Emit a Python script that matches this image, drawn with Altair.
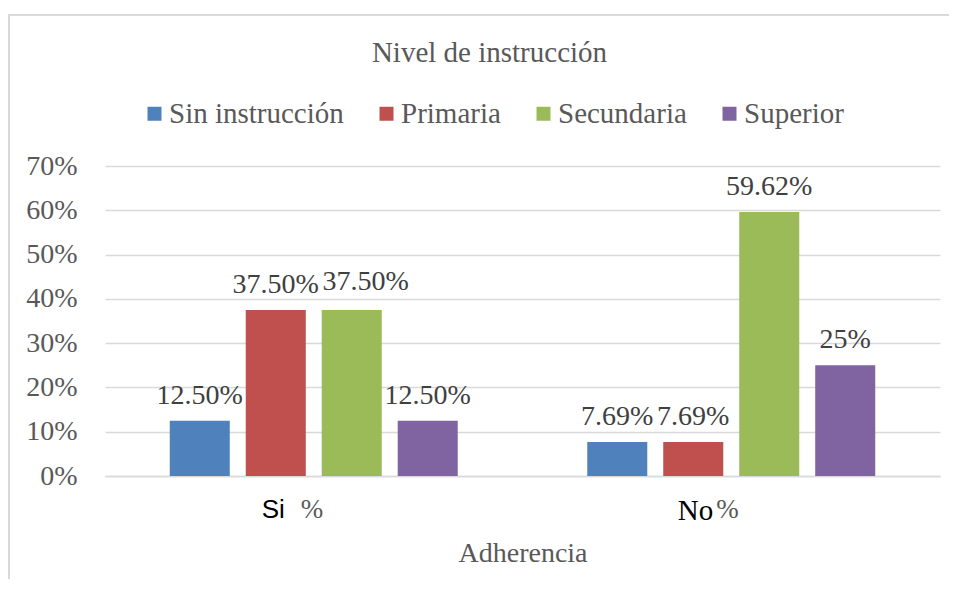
import altair as alt
import pandas as pd

categories = ["Si", "No"]
levels = ["Sin instrucción", "Primaria", "Secundaria", "Superior"]
si_values = [12.5, 37.5, 37.5, 12.5]
no_values = [7.69, 7.69, 59.62, 25.0]
si_labels = ["12.50%", "37.50%", "37.50%", "12.50%"]
no_labels = ["7.69%", "7.69%", "59.62%", "25%"]
y_ticks = [0, 10, 20, 30, 40, 50, 60, 70]
colors = ["#4F81BD", "#C0504D", "#9BBB59", "#8064A2"]

rows = []
for cat, vals, labs in [("Si", si_values, si_labels), ("No", no_values, no_labels)]:
    for lev, v, lab in zip(levels, vals, labs):
        rows.append({"Adherencia": cat, "Nivel": lev, "Valor": v, "Etiqueta": lab})
df = pd.DataFrame(rows)

SERIF = "Liberation Serif"
GRAY = "#595959"
W, H = 835, 310

xscale = alt.Scale(paddingInner=0.272, paddingOuter=0.136)
xoff = alt.XOffset("Nivel:N", sort=levels, scale=alt.Scale(paddingInner=0.21, paddingOuter=0.105))
yscale = alt.Scale(domain=[0, 70])
yaxis = alt.Axis(title=None, values=y_ticks, labelExpr="datum.value + '%'",
                 domain=False, ticks=False, grid=True, gridColor="#D9D9D9", gridWidth=1.5,
                 labelFont=SERIF, labelFontSize=28, labelColor=GRAY, labelPadding=28)

one = pd.DataFrame({"k": [0]})
frame_top = alt.Chart(one).mark_rule(stroke="#D9D9D9", strokeWidth=2).encode(
    x=alt.value(-96), x2=alt.value(900), y=alt.value(-151)
)
frame_left = alt.Chart(one).mark_rule(stroke="#D9D9D9", strokeWidth=2).encode(
    x=alt.value(-96), y=alt.value(-152), y2=alt.value(460)
)

bars = alt.Chart(df).mark_bar().encode(
    x=alt.X("Adherencia:N", sort=categories, scale=xscale,
            axis=alt.Axis(
                orient="bottom", title="Adherencia", labelAngle=0,
                domain=True, domainColor="#D9D9D9", domainWidth=1.5,
                ticks=False, grid=False,
                labelFont={"condition": {"test": "datum.value === 'Si'", "value": "Liberation Sans"}, "value": SERIF},
                labelFontSize={"condition": {"test": "datum.value === 'Si'", "value": 26}, "value": 29},
                labelOffset={"condition": {"test": "datum.value === 'Si'", "value": -29}, "value": -18},
                labelAlign="right", labelColor="#000000", labelPadding=20,
                titleFont=SERIF, titleFontSize=28, titleFontWeight="normal", titleColor=GRAY,
                titleY=85, titleBaseline="alphabetic",
            )),
    xOffset=xoff,
    y=alt.Y("Valor:Q", scale=yscale, axis=yaxis),
    color=alt.Color("Nivel:N", sort=levels, scale=alt.Scale(domain=levels, range=colors),
                    legend=alt.Legend(title=None, orient="none", legendX=35, legendY=-67,
                                      direction="horizontal", columns=4,
                                      symbolType="square", symbolSize=196, symbolStrokeWidth=0,
                                      labelFont=SERIF, labelFontSize=29, labelColor=GRAY,
                                      labelLimit=0, labelOffset=0, columnPadding=28, padding=0)),
)

main_labels = alt.Chart(df).transform_filter(
    "!(datum.Adherencia === 'Si' && datum.Nivel === 'Secundaria')"
).mark_text(font=SERIF, fontSize=28, color="#404040", baseline="alphabetic", dy=-17).encode(
    x=alt.X("Adherencia:N", sort=categories, scale=xscale,
            axis=alt.Axis(orient="bottom", title=None, labelExpr="'%'", labelAngle=0,
                          domain=False, ticks=False, grid=False,
                          labelAlign="left",
                          labelOffset={"condition": {"test": "datum.value === 'Si'", "value": -13}, "value": -15},
                          labelFont=SERIF, labelFontSize=27, labelColor=GRAY, labelPadding=20)),
    xOffset=xoff,
    y=alt.Y("Valor:Q", scale=yscale, axis=yaxis),
    text="Etiqueta:N",
)

special_label = alt.Chart(df).transform_filter(
    "datum.Adherencia === 'Si' && datum.Nivel === 'Secundaria'"
).mark_text(font=SERIF, fontSize=28, color="#404040", baseline="alphabetic", dy=-20, dx=14).encode(
    x=alt.X("Adherencia:N", sort=categories, scale=xscale, axis=None),
    xOffset=xoff,
    y=alt.Y("Valor:Q", scale=yscale, axis=yaxis),
    text="Etiqueta:N",
)

chart = alt.layer(frame_top, frame_left, bars, main_labels, special_label).resolve_axis(x="independent").properties(
    width=W, height=H,
    title=alt.TitleParams("Nivel de instrucción", font=SERIF, fontSize=29, fontWeight="normal",
                          color=GRAY, anchor="middle", frame="group", dx=-33, offset=-55),
    padding={"left": 97, "top": 158, "right": 9, "bottom": 103},
    autosize=alt.AutoSizeParams(type="none"),
    background="white",
).configure_view(strokeWidth=0)

chart.save("out.html", embed_options={"renderer": "svg", "actions": False})
